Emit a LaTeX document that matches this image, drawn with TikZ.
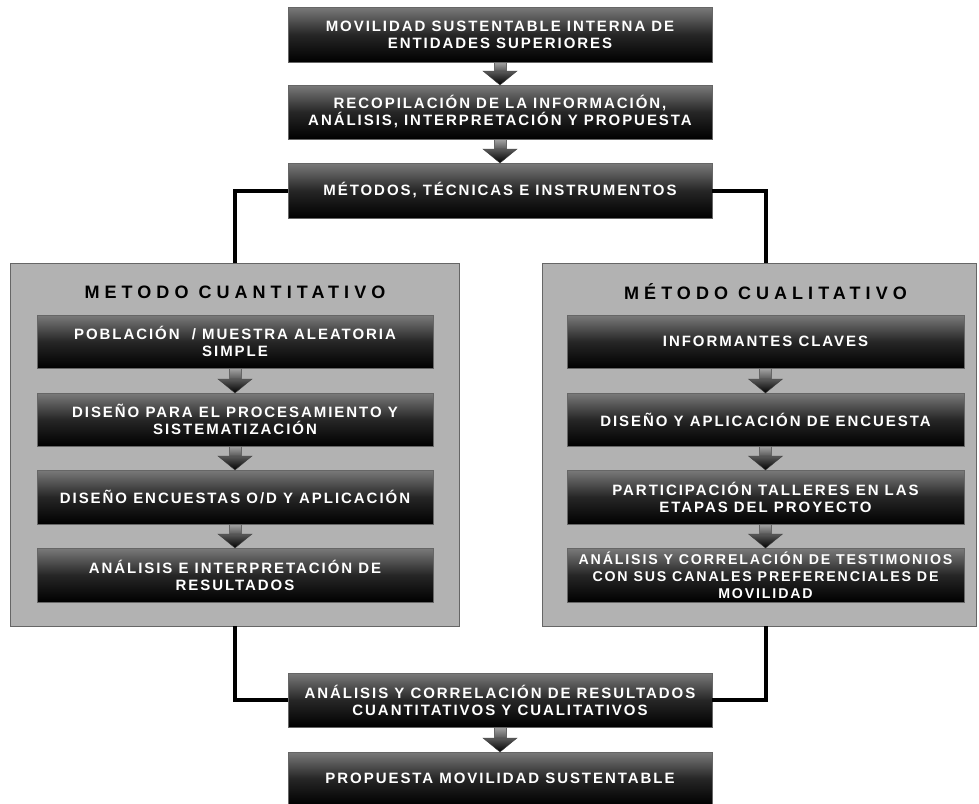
\documentclass[tikz,border=0pt]{standalone}
\usepackage{fontspec}
\newfontfamily\bxfont[LetterSpace=13]{Liberation Sans}
\newfontfamily\ttlfont[LetterSpace=28]{Liberation Sans}
\usetikzlibrary{calc}
\tikzset{
  blk/.style={rectangle, draw=black!60, line width=0.8pt, top color=black!52, bottom color=black, middle color=black!85,
    text=white, font=\bxfont\bfseries\fontsize{15}{17}\selectfont, align=center, inner sep=0pt, outer sep=0pt},
  smalltext/.style={font=\bxfont\bfseries\fontsize{14.2}{17}\selectfont},
  panel/.style={rectangle, draw=black!60, fill=black!30, line width=1pt, inner sep=0pt, outer sep=0pt},
  ttl/.style={font=\ttlfont\bfseries\fontsize{18}{20}\selectfont, text=black, inner sep=0pt},
  conn/.style={line width=4pt, black},
}
\newcommand\flowarrow[2]{%
  \shade[top color=black!35, bottom color=black!65, draw=black!60, line width=0.4pt]
    ($(#1.south)+(-6,0)$) rectangle ($(#2.north)+(6,-14)$);
  \shade[top color=black!65, bottom color=black, draw=black!75, line width=0.4pt]
    ($(#2.north)+(-17,-14)$) -- ($(#2.north)+(17,-14)$) -- (#2.north) -- cycle;
}
\begin{document}
\begin{tikzpicture}[x=1pt,y=-1pt]
\useasboundingbox (0,0) rectangle (979,803);
% panels
\node[panel, minimum width=449pt, minimum height=363pt] (PL) at (234.5,444.5) {};
\node[panel, minimum width=434pt, minimum height=363pt] (PR) at (759,444.5) {};
% central boxes
\node[blk, minimum width=424pt, minimum height=55pt] (b1) at (500,34.5) {MOVILIDAD SUSTENTABLE INTERNA DE\\ENTIDADES SUPERIORES};
\node[blk, minimum width=424pt, minimum height=54pt] (b2) at (500,112) {RECOPILACIÓN DE LA INFORMACIÓN,\\ANÁLISIS, INTERPRETACIÓN Y PROPUESTA};
\node[blk, minimum width=424pt, minimum height=55pt] (b3) at (500,190.5) {MÉTODOS, TÉCNICAS E INSTRUMENTOS};
% titles
\node[ttl] (TL) at (235,292) {METODO CUANTITATIVO};
\node[ttl] (TR) at (765.5,292) {MÉTODO CUALITATIVO};
% left column
\node[blk, minimum width=396pt, minimum height=53pt] (L1) at (235,341.5) {POBLACIÓN ~/ MUESTRA ALEATORIA\\SIMPLE};
\node[blk, minimum width=396pt, minimum height=53pt] (L2) at (235,419.5) {DISEÑO PARA EL PROCESAMIENTO Y\\SISTEMATIZACIÓN};
\node[blk, minimum width=396pt, minimum height=54pt] (L3) at (235,497) {DISEÑO ENCUESTAS O/D Y APLICACIÓN};
\node[blk, minimum width=396pt, minimum height=54pt] (L4) at (235,575) {ANÁLISIS E INTERPRETACIÓN DE\\RESULTADOS};
% right column
\node[blk, minimum width=397pt, minimum height=53pt] (R1) at (765.5,341.5) {INFORMANTES CLAVES};
\node[blk, minimum width=397pt, minimum height=53pt] (R2) at (765.5,419.5) {DISEÑO Y APLICACIÓN DE ENCUESTA};
\node[blk, minimum width=397pt, minimum height=54pt] (R3) at (765.5,497) {PARTICIPACIÓN TALLERES EN LAS\\ETAPAS DEL PROYECTO};
\node[blk, smalltext, minimum width=397pt, minimum height=54pt] (R4) at (765.5,575) {ANÁLISIS Y CORRELACIÓN DE TESTIMONIOS\\CON SUS CANALES PREFERENCIALES DE\\MOVILIDAD};
% bottom boxes
\node[blk, minimum width=424pt, minimum height=54pt] (b5) at (500,700) {ANÁLISIS Y CORRELACIÓN DE RESULTADOS\\CUANTITATIVOS Y CUALITATIVOS};
\node[blk, minimum width=424pt, minimum height=53pt] (b6) at (500,778.5) {PROPUESTA MOVILIDAD SUSTENTABLE};
% connectors
\draw[conn] (b3.west) -| (L1.north |- PL.north);
\draw[conn] (b3.east) -| (R1.north |- PR.north);
\draw[conn] (L4.south |- PL.south) |- (b5.west);
\draw[conn] (R4.south |- PR.south) |- (b5.east);
% arrows
\flowarrow{b1}{b2}
\flowarrow{b2}{b3}
\flowarrow{L1}{L2}
\flowarrow{L2}{L3}
\flowarrow{L3}{L4}
\flowarrow{R1}{R2}
\flowarrow{R2}{R3}
\flowarrow{R3}{R4}
\flowarrow{b5}{b6}
\end{tikzpicture}
\end{document}
